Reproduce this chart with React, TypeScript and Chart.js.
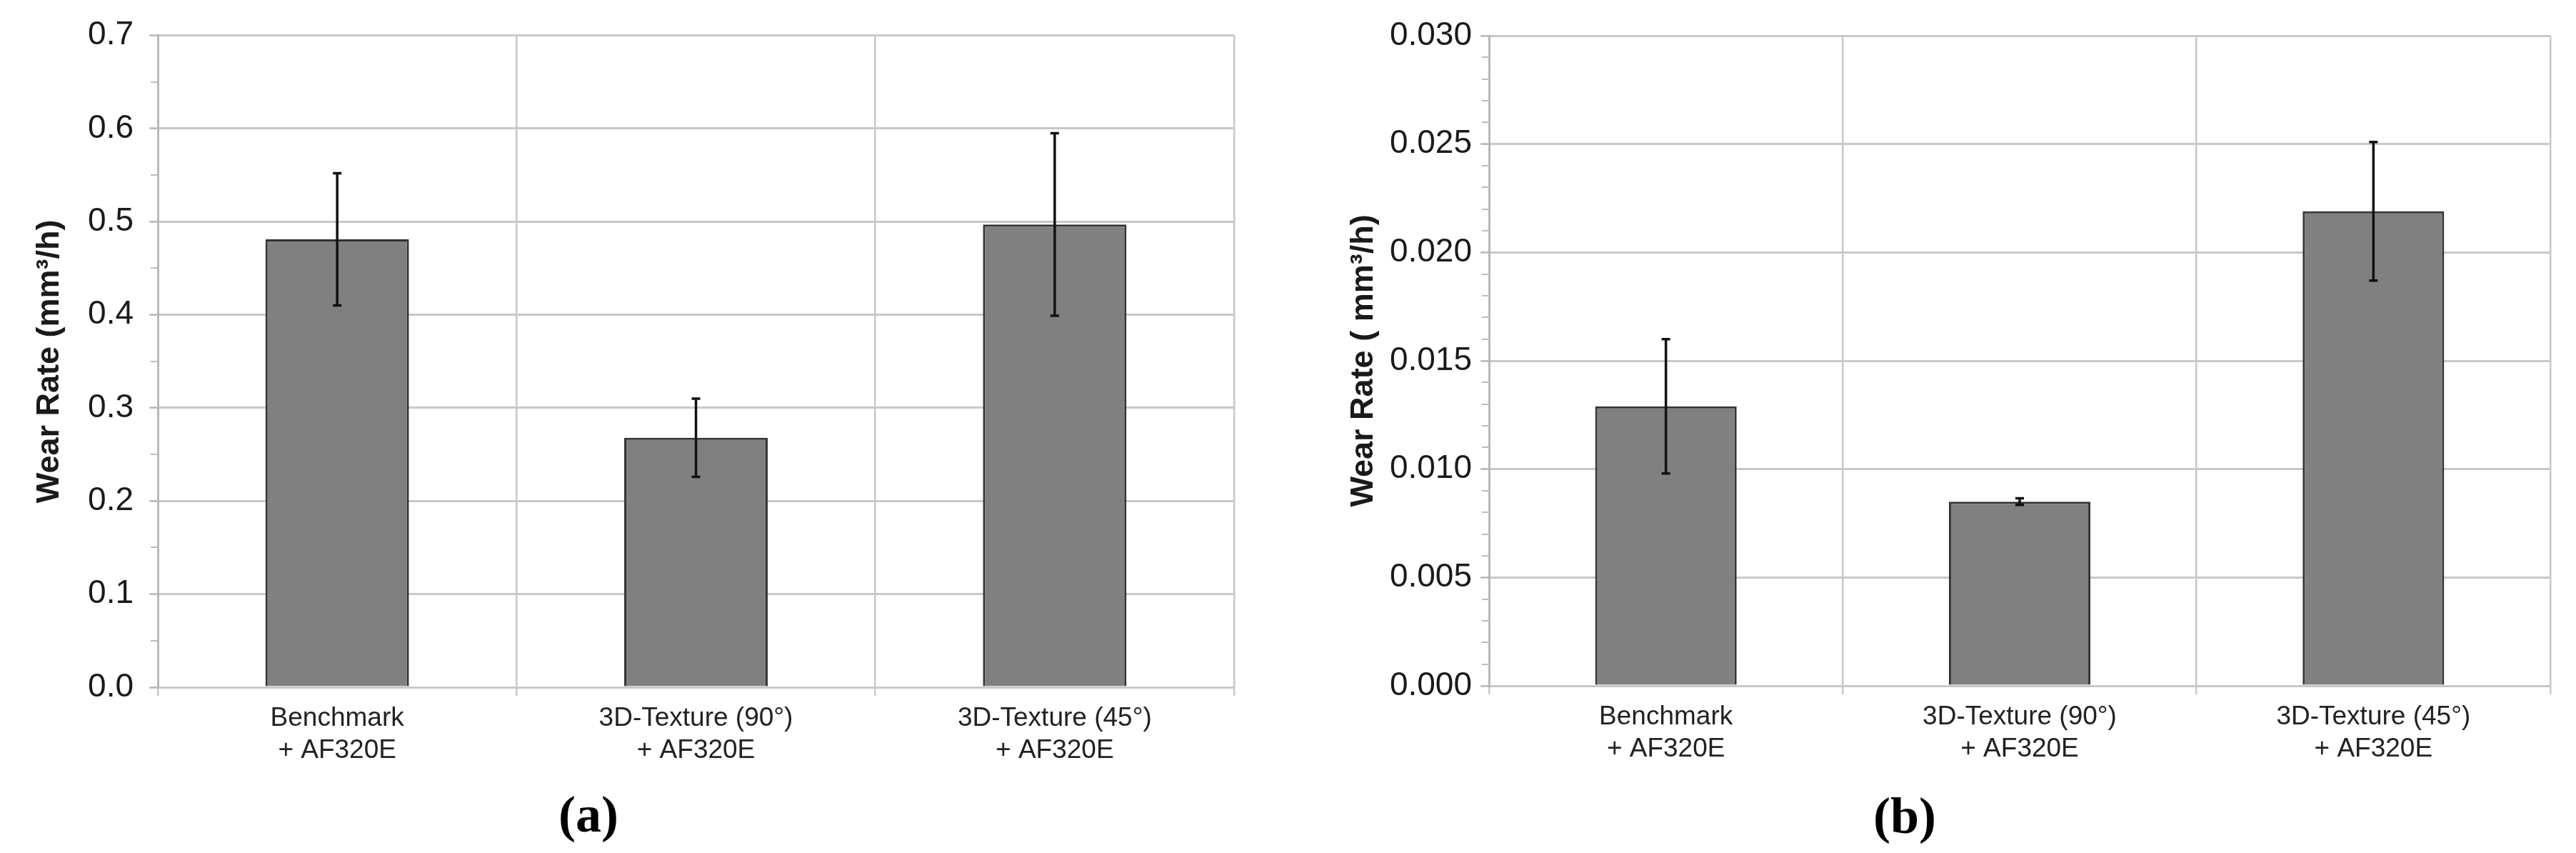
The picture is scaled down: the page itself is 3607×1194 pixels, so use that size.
import { useEffect, useRef } from "react";
import { Chart, registerables } from "chart.js";

Chart.register(...registerables);

// categories shared by both panels
const categories = [
  ["Benchmark", "+ AF320E"],
  ["3D-Texture (90°)", "+ AF320E"],
  ["3D-Texture (45°)", "+ AF320E"],
];

// panel (a)
const wearA = [0.481, 0.268, 0.497];
const errA = [0.071, 0.042, 0.098];
const yMaxA = 0.7;
const stepA = 0.1;
const minorStepA = 0.05;
const titleA = "Wear Rate (mm³/h)";

// panel (b)
const wearB = [0.0129, 0.0085, 0.0219];
const errB = [0.0031, 0.00015, 0.0032];
const yMaxB = 0.03;
const stepB = 0.005;
const minorStepB = 0.001;
const titleB = "Wear Rate ( mm³/h)";

const SANS = "'Liberation Sans', Arial, sans-serif";
const GRID = "#c8c8c8";

const errorBars = {
  id: "errorBars",
  afterDatasetsDraw(chart: any, _args: any, opts: any) {
    const errs: number[] = opts.errors || [];
    const vals = chart.data.datasets[0].data as number[];
    const meta = chart.getDatasetMeta(0);
    const y = chart.scales.y;
    const ctx = chart.ctx;
    ctx.save();
    ctx.strokeStyle = "#111";
    ctx.lineWidth = 3.5;
    meta.data.forEach((bar: any, i: number) => {
      const top = y.getPixelForValue(vals[i] + errs[i]);
      const bot = y.getPixelForValue(vals[i] - errs[i]);
      ctx.beginPath();
      ctx.moveTo(bar.x, top);
      ctx.lineTo(bar.x, bot);
      ctx.moveTo(bar.x - 6, top);
      ctx.lineTo(bar.x + 6, top);
      ctx.moveTo(bar.x - 6, bot);
      ctx.lineTo(bar.x + 6, bot);
      ctx.stroke();
    });
    ctx.restore();
  },
};

type Props = {
  values: number[];
  errors: number[];
  yMax: number;
  step: number;
  minorStep: number;
  decimals: number;
  title: string;
  left: number;
  width: number;
  axisWidth: number;
  titlePad: number;
  tickPad: number;
  padTop: number;
  padRight: number;
  plotBottom: number;
};

function WearChart(p: Props) {
  const canvasRef = useRef<HTMLCanvasElement>(null);
  const height = 1194;

  useEffect(() => {
    const canvas = canvasRef.current;
    if (!canvas) return;
    const chart = new Chart(canvas, {
      type: "bar",
      data: {
        labels: categories,
        datasets: [
          {
            data: p.values,
            backgroundColor: "#808080",
            borderColor: "#333333",
            borderWidth: 3,
            barPercentage: 0.4,
            categoryPercentage: 1,
          },
        ],
      },
      plugins: [errorBars],
      options: {
        responsive: false,
        animation: false,
        devicePixelRatio: 1,
        layout: { padding: { left: 0, top: p.padTop, right: p.padRight, bottom: 0 } },
        plugins: {
          legend: { display: false },
          tooltip: { enabled: false },
          errorBars: { errors: p.errors },
        } as any,
        scales: {
          x: {
            type: "category",
            afterFit: (s: any) => { s.height = height - p.plotBottom; },
            grid: {
              offset: true,
              color: (c: any) => (c.index === 3 ? "#b4b4b4" : GRID),
              lineWidth: (c: any) => (c.index === 3 ? 5 : 2.5),
              tickLength: 12,
            },
            border: { color: GRID, width: 3 },
            ticks: {
              color: "#222",
              font: { family: SANS, size: 37 },
              padding: 10,
              maxRotation: 0,
              autoSkip: false,
            },
          },
          y: {
            type: "linear",
            position: "left",
            weight: 1,
            min: 0,
            max: p.yMax,
            afterFit: (s: any) => { s.width = p.axisWidth; },
            grid: { color: GRID, lineWidth: 3, tickLength: 12 },
            border: { color: "#b8b8b8", width: 3 },
            ticks: {
              stepSize: p.step,
              autoSkip: false,
              color: "#1a1a1a",
              padding: p.tickPad,
              font: { family: SANS, size: 46 },
              callback: (v: any) => Number(v).toFixed(p.decimals),
            },
            title: {
              display: true,
              text: p.title,
              color: "#1a1a1a",
              font: { family: SANS, size: 45, weight: "bold" },
              padding: { top: p.titlePad, bottom: 0 },
            },
          },
          yMinor: {
            type: "linear",
            position: "left",
            weight: 0,
            min: 0,
            max: p.yMax,
            afterFit: (s: any) => { s.width = 0; },
            grid: { drawOnChartArea: false, color: "#bdbdbd", lineWidth: 2, tickLength: 10 },
            border: { display: false },
            ticks: { display: false, stepSize: p.minorStep, maxTicksLimit: 100 },
          },
        },
      } as any,
    });
    return () => chart.destroy();
  }, []);

  return (
    <canvas
      ref={canvasRef}
      width={p.width}
      height={height}
      style={{ position: "absolute", left: p.left, top: 0, display: "block" }}
    />
  );
}

const panelLabel: React.CSSProperties = {
  position: "absolute",
  fontFamily: "'Liberation Serif', 'Times New Roman', serif",
  fontWeight: "bold",
  fontSize: 72,
  lineHeight: "72px",
  transform: "translate(-50%, -50%)",
  color: "#000",
};

export default function App() {
  return (
    <div
      style={{
        position: "fixed",
        left: 0,
        top: 0,
        width: 3607,
        height: 1194,
        background: "#fff",
        overflow: "hidden",
      }}
    >
      <WearChart
        values={wearA}
        errors={errA}
        yMax={yMaxA}
        step={stepA}
        minorStep={minorStepA}
        decimals={1}
        title={titleA}
        left={0}
        width={1790}
        axisWidth={221}
        titlePad={43}
        tickPad={22}
        padTop={49}
        padRight={62}
        plotBottom={962}
      />
      <WearChart
        values={wearB}
        errors={errB}
        yMax={yMaxB}
        step={stepB}
        minorStep={minorStepB}
        decimals={3}
        title={titleB}
        left={1790}
        width={1817}
        axisWidth={295}
        titlePad={93}
        tickPad={12}
        padTop={50}
        padRight={36}
        plotBottom={960}
      />
      <div style={{ ...panelLabel, left: 824, top: 1140 }}>(a)</div>
      <div style={{ ...panelLabel, left: 2667, top: 1142 }}>(b)</div>
    </div>
  );
}
